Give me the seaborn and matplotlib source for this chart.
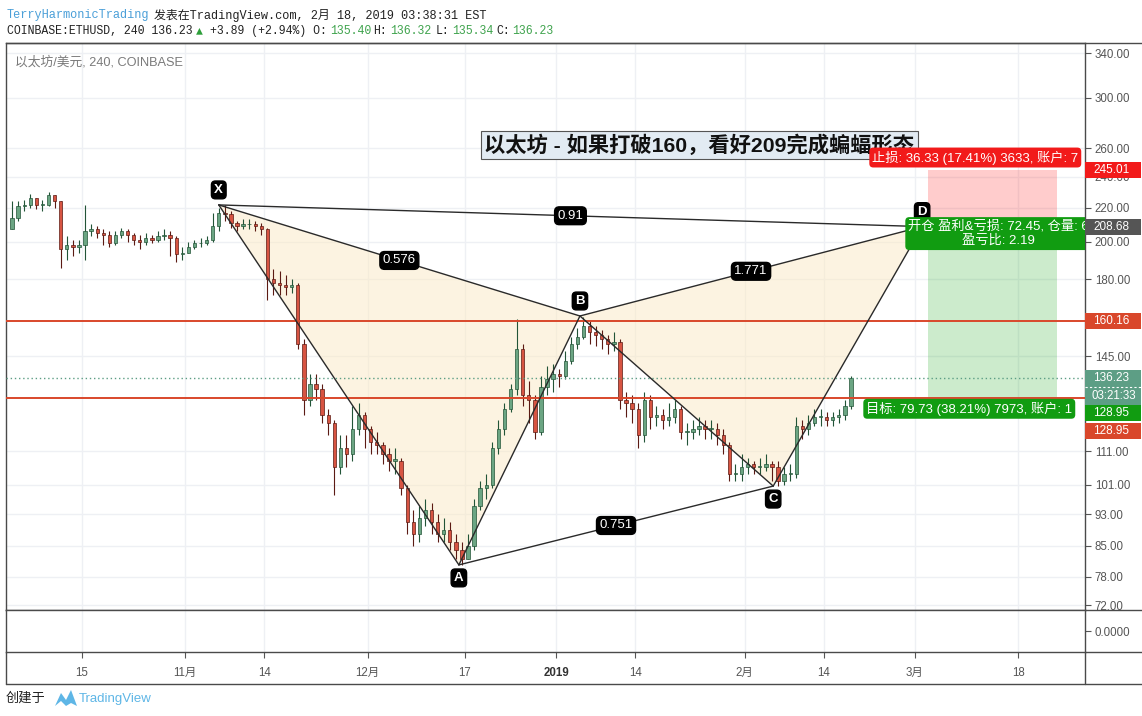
import matplotlib
matplotlib.use("Agg")
import numpy as np
import pandas as pd
import matplotlib.pyplot as plt
import matplotlib.dates as mdates
import matplotlib.ticker as mticker
from matplotlib.patches import Rectangle, Polygon
from matplotlib.lines import Line2D
import seaborn as sns

# ------------------------------------------------------------------ data
start_date = "2018-10-03"          # first daily candle
first_open = 207.0
closes = [214, 221, 222, 226, 222, 222, 228, 224, 196, 198,
          197, 198, 206, 207, 205, 204, 199, 204, 206, 204,
          201, 200, 202, 201, 203, 204, 202, 193, 194, 197,
          199, 199, 201, 209, 217, 216, 211, 209, 210, 210,
          209, 207, 180, 178, 177, 176, 177, 150, 128, 134,
          132, 123, 120, 106, 112, 110, 118, 123, 118, 114,
          113, 110, 108, 108, 100, 91, 88, 92, 94, 91,
          88, 89, 86, 84, 82, 85, 95, 100, 101, 112,
          118, 125, 132, 148, 130, 128, 117, 133, 136, 138,
          137, 143, 150, 153, 158, 155, 154, 152, 150, 151,
          128, 127, 125, 116, 128, 122, 123, 121, 122, 125,
          117, 117, 118, 119, 118, 118, 116, 113, 104, 104,
          106, 107, 106, 106, 107, 106, 102, 104, 104, 119,
          118, 120, 122, 122, 121, 122, 123, 126, 136.23]
highs = [224, 224, 225, 229, 226, 225, 230, 228, 224, 203,
         201, 201, 222, 210, 209, 207, 206, 206, 208, 207,
         205, 204, 205, 204, 206, 207, 206, 203, 197, 200,
         201, 202, 203, 217, 220, 222, 218, 212, 213, 213,
         212, 211, 208, 185, 184, 182, 180, 178, 152, 138,
         138, 134, 125, 121, 116, 116, 126, 127, 124, 119,
         117, 114, 112, 112, 109, 101, 94, 95, 97, 96,
         93, 92, 91, 88, 86, 88, 97, 102, 104, 114,
         121, 127, 134, 161, 150, 135, 130, 137, 141, 142,
         140, 147, 153, 157, 162, 160, 158, 156, 154, 155,
         152, 131, 130, 127, 131, 130, 126, 125, 127, 128,
         126, 120, 121, 122, 121, 121, 120, 118, 114, 107,
         110, 109, 108, 109, 110, 108, 108, 106, 107, 122,
         121, 123, 125, 125, 124, 124, 125, 128, 137]
lows = [207, 212, 218, 220, 219, 218, 221, 220, 186, 190,
        192, 194, 190, 203, 202, 198, 197, 198, 202, 200,
        198, 196, 198, 199, 200, 201, 192, 189, 190, 194,
        196, 197, 198, 200, 206, 212, 208, 206, 207, 207,
        206, 204, 170, 172, 172, 172, 173, 148, 123, 126,
        128, 120, 116, 98, 104, 106, 108, 116, 112, 110,
        110, 107, 105, 104, 98, 88, 85, 86, 90, 88,
        86, 86, 84, 82, 80.6, 82, 84, 94, 97, 100,
        110, 116, 124, 130, 126, 120, 115, 116, 130, 131,
        133, 136, 142, 148, 152, 150, 149, 148, 146, 147,
        125, 122, 120, 112, 114, 118, 119, 118, 119, 120,
        115, 113, 115, 116, 115, 115, 113, 110, 102, 102,
        102, 104, 104, 104, 105, 102, 100.6, 101, 102, 103,
        115, 116, 119, 119, 119, 119, 120, 121, 125]

pattern_labels = ["X", "A", "B", "C", "D"]
pattern_times = ["2018-11-06 12:00", "2018-12-16 00:00", "2019-01-04 22:00",
                 "2019-02-05 17:00", "2019-03-02 05:00"]
pattern_prices = [221.8, 80.6, 162.3, 100.6, 208.68]
pattern_legs = [("X", "A"), ("A", "B"), ("B", "C"), ("C", "D"),
                ("X", "B"), ("B", "D"), ("X", "D"), ("A", "C")]
ratio_legs = [("X", "B"), ("X", "D"), ("B", "D"), ("A", "C")]
ratio_values = ["0.576", "0.91", "1.771", "0.751"]

entry_price = 208.68
stop_price = 245.01
target_price = 128.95
tool_times = ["2019-03-03 05:00", "2019-03-24 10:00"]
stop_text = "止损: 36.33 (17.41%) 3633, 账户: 7"
entry_text = "开仓 盈利&亏损: 72.45, 仓量: 6\n盈亏比: 2.19"
target_text = "目标: 79.73 (38.21%) 7973, 账户: 1"

level_lines = [160.16, 128.95]
last_price = 136.23
countdown = "03:21:33"

title_text = "以太坊 - 如果打破160，看好209完成蝙蝠形态"
title_time = "2019-01-24 14:00"
title_price = 262.6

ytick_vals = [340, 300, 260, 240, 220, 200, 180, 145, 111, 101, 93, 85, 78, 72]
xtick_dates = ["2018-10-15", "2018-11-01", "2018-11-14", "2018-12-01", "2018-12-17",
               "2019-01-01", "2019-01-14", "2019-02-01", "2019-02-14", "2019-03-01",
               "2019-03-18"]
xtick_labels = ["15", "11月", "14", "12月", "17", "2019", "14", "2月", "14", "3月", "18"]
x_range = ["2018-10-02 12:00", "2019-03-29 00:00"]
y_range = [71.0, 349.7]

# ------------------------------------------------------------------ style
sns.set_theme(style="white")
plt.rcParams["font.family"] = ["Liberation Sans", "Noto Sans CJK SC", "DejaVu Sans"]
plt.rcParams["axes.unicode_minus"] = False
MONO = ["Liberation Mono", "Noto Sans CJK SC", "DejaVu Sans"]

W, H = 1142, 716
fig = plt.figure(figsize=(W / 100, H / 100), dpi=100, facecolor="white")

L, R, T, MB, LB, XB = 6, 1085, 43, 610, 652, 684
ax = fig.add_axes([L / W, 1 - MB / H, (R - L) / W, (MB - T) / H])
axl = fig.add_axes([L / W, 1 - LB / H, (R - L) / W, (LB - MB) / H])

FRAME = "#4a4a4a"
GRID = "#eef0f4"
TICKC = "#555555"
PX = 0.72  # points per pixel at 100 dpi

# ------------------------------------------------------------------ candles
n = len(closes)
day0 = pd.Timestamp(start_date)
centers = mdates.date2num([day0 + pd.Timedelta(days=i, hours=12) for i in range(n)])
o = np.array([first_open] + closes[:-1], dtype=float)
c = np.array(closes, dtype=float)
hi = np.array(highs, dtype=float)
lo = np.array(lows, dtype=float)
up = c >= o

ax.set_yscale("log")
xr = mdates.date2num(pd.to_datetime(x_range))
ax.set_xlim(*xr)
axl.set_xlim(*xr)
ax.set_ylim(*y_range)

wick_col = np.where(up, "#225437", "#5b1a13")
body_col = np.where(up, "#6ba583", "#d75442")
ax.vlines(centers, lo, hi, colors=wick_col, lw=0.8, zorder=3)
ax.bar(centers, np.maximum(np.abs(c - o), 0.5), bottom=np.minimum(o, c), width=0.55,
       color=body_col, edgecolor=wick_col, linewidth=0.5, zorder=4)

# ------------------------------------------------------------------ pattern
ptx = mdates.date2num(pd.to_datetime(pattern_times))
pt = {k: (x, y) for k, x, y in zip(pattern_labels, ptx, pattern_prices)}
fill_kw = dict(closed=True, fc="#fbe9c4", ec="none", alpha=0.5, zorder=1)
ax.add_patch(Polygon([pt["X"], pt["A"], pt["B"]], **fill_kw))
ax.add_patch(Polygon([pt["B"], pt["C"], pt["D"]], **fill_kw))

rows = []
for i, (a, b) in enumerate(pattern_legs):
    rows.append(dict(seg=i, x=pt[a][0], y=pt[a][1]))
    rows.append(dict(seg=i, x=pt[b][0], y=pt[b][1]))
sns.lineplot(data=pd.DataFrame(rows), x="x", y="y", units="seg", estimator=None,
             sort=False, color="#2a2a2a", lw=1.0, ax=ax, legend=False, zorder=6)

for (a, b), txt in zip(ratio_legs, ratio_values):
    mx = (pt[a][0] + pt[b][0]) / 2
    my = np.sqrt(pt[a][1] * pt[b][1])
    ax.text(mx, my, txt, ha="center", va="center", color="white", fontsize=9.5,
            bbox=dict(boxstyle="round,pad=0.22,rounding_size=0.35", fc="black", ec="black"),
            zorder=8)

for k in pattern_labels:
    above = k in ("X", "B", "D")
    ax.annotate(k, pt[k], xytext=(0, (15 if above else -13) * PX), textcoords="offset points",
                ha="center", va="center", color="white", fontsize=9.5, fontweight="bold",
                bbox=dict(boxstyle="round,pad=0.22,rounding_size=0.3", fc="black", ec="black"),
                zorder=8)

# ------------------------------------------------------------------ levels
for lv in level_lines:
    ax.axhline(lv, color="#d9472b", lw=1.4, zorder=5)
ax.axhline(last_price, color="#5d9e85", lw=1.0, ls=(0, (1, 2)), zorder=5)

# ------------------------------------------------------------------ title note
ax.text(mdates.date2num(pd.Timestamp(title_time)), title_price, title_text,
        ha="center", va="center", fontsize=15.3, fontweight="bold", color="#111111",
        bbox=dict(boxstyle="square,pad=0.15", fc="#e2ebf3", ec="#555555", lw=0.8), zorder=9)

# ------------------------------------------------------------------ position tool
t0, t1 = mdates.date2num(pd.to_datetime(tool_times))
ax.add_patch(Rectangle((t0, entry_price), t1 - t0, stop_price - entry_price,
                       fc=(1, 0, 0, 0.2), ec="none", zorder=2))
ax.add_patch(Rectangle((t0, target_price), t1 - t0, entry_price - target_price,
                       fc=(0, 0.61, 0, 0.2), ec="none", zorder=2))
box_kw = dict(textcoords="offset points", ha="left", va="center", color="white",
              fontsize=9.5, clip_on=True, zorder=10)
ax.annotate(stop_text, (t0, stop_price), xytext=(-56 * PX, 12 * PX),
            bbox=dict(boxstyle="round,pad=0.22,rounding_size=0.3", fc="#f21a1a", ec="none"),
            **box_kw)
ax.annotate(entry_text, (t0, entry_price), xytext=(-20 * PX, -7 * PX),
            linespacing=1.25, multialignment="center",
            bbox=dict(boxstyle="round,pad=0.22,rounding_size=0.3", fc="#119c11", ec="none"),
            **box_kw)
ax.annotate(target_text, (t0, target_price), xytext=(-62 * PX, -11 * PX),
            bbox=dict(boxstyle="round,pad=0.22,rounding_size=0.3", fc="#119c11", ec="none"),
            **box_kw)

# ------------------------------------------------------------------ axes styling
xt = mdates.date2num(pd.to_datetime(xtick_dates))
ax.set_xticks(xt)
ax.tick_params(axis="x", length=0, labelbottom=False)
ax.yaxis.tick_right()
ax.set_yticks(ytick_vals)
ax.yaxis.set_major_formatter(mticker.FormatStrFormatter("%.2f"))
ax.yaxis.set_minor_locator(mticker.NullLocator())
ax.tick_params(axis="y", which="major", right=True, left=False, length=4, width=0.8,
               color=TICKC, labelsize=8.3, labelcolor=TICKC, pad=3, direction="out")
ax.grid(True, color=GRID, lw=1)
ax.set_axisbelow(True)
ax.set_xlabel("")
ax.set_ylabel("")

axl.yaxis.tick_right()
axl.set_ylim(-1, 1)
axl.set_yticks([0])
axl.yaxis.set_major_formatter(mticker.FormatStrFormatter("%.4f"))
axl.tick_params(axis="y", right=True, left=False, length=4, width=0.8, color=TICKC,
                labelsize=8.3, labelcolor=TICKC, pad=3, direction="out")
axl.set_xticks(xt)
axl.set_xticklabels(xtick_labels)
axl.tick_params(axis="x", bottom=True, length=4, width=0.8, color=TICKC, labelsize=8.3,
                labelcolor=TICKC, pad=7, direction="out")
axl.get_xticklabels()[5].set_fontweight("bold")
axl.get_xticklabels()[5].set_color("#333333")
axl.grid(True, axis="x", color=GRID, lw=1)
axl.set_axisbelow(True)

for a in (ax, axl):
    for s in a.spines.values():
        s.set_color(FRAME)
        s.set_linewidth(1.0)
        s.set_visible(True)

# extra frame lines (price-axis column and date strip)
def fl(x0, y0, x1, y1):
    fig.add_artist(Line2D([x0 / W, x1 / W], [1 - y0 / H, 1 - y1 / H], color=FRAME, lw=1.0,
                          transform=fig.transFigure, zorder=20))
fl(L, T, W, T)
fl(R, MB, W, MB)
fl(R, LB, W, LB)
fl(L, XB, W, XB)
fl(L, LB, L, XB)
fl(R, LB, R, XB)

# ------------------------------------------------------------------ price tags
def ypx(price):
    return H - ax.transData.transform((xr[0], price))[1]

def tag(yc, text, fc, h=16):
    fig.add_artist(Rectangle((R / W, 1 - (yc + h / 2) / H), (W - 1 - R) / W, h / H,
                             transform=fig.transFigure, fc=fc, ec="none", zorder=21))
    fig.text(1093 / W, 1 - yc / H, text, color="white", fontsize=8.5, ha="left",
             va="center", zorder=22)

tag(ypx(stop_price), f"{stop_price:.2f}", "#f21a1a")
tag(ypx(entry_price), f"{entry_price:.2f}", "#555555")
tag(ypx(level_lines[0]), f"{level_lines[0]:.2f}", "#d9472b")
yl = ypx(last_price)
fig.add_artist(Rectangle((R / W, 1 - (yl + 27) / H), (W - 1 - R) / W, 35 / H,
                         transform=fig.transFigure, fc="#5d9e85", ec="none", zorder=21))
fig.text(1093 / W, 1 - yl / H, f"{last_price:.2f}", color="white", fontsize=8.5,
         ha="left", va="center", zorder=22)
fig.text(1091 / W, 1 - (yl + 17.5) / H, countdown, color="white", fontsize=8.3,
         ha="left", va="center", zorder=22)
fig.add_artist(Line2D([R / W, (W - 1) / W], [1 - (yl + 8.5) / H] * 2, color="white", lw=0.8,
                      ls=(0, (2, 2)), transform=fig.transFigure, zorder=22))
yt = ypx(target_price)
tag(yt + 15, f"{target_price:.2f}", "#119c11")
tag(yt + 33, f"{level_lines[1]:.2f}", "#d9472b")

# ------------------------------------------------------------------ header / footer
def ft(x, y, s, **kw):
    fig.text(x / W, 1 - y / H, s, va="center", ha="left", **kw)

ft(7, 15, "TerryHarmonicTrading", color="#4a9fd8", fontsize=8.6, family=MONO)
ft(154, 15, "发表在TradingView.com, 2月 18, 2019 03:38:31 EST", color="#222222",
   fontsize=8.6, family=MONO)
GREEN = "#3fa34d"
for s, x, col in [("COINBASE:ETHUSD, 240 136.23", 7, "#222222"), ("▲", 196, "#2e9e3a"),
                  ("+3.89 (+2.94%) O:", 210, "#222222"), ("135.40", 330, GREEN),
                  ("H:", 373, "#222222"), ("136.32", 390, GREEN), ("L:", 436, "#222222"),
                  ("135.34", 452, GREEN), ("C:", 496, "#222222"), ("136.23", 512, GREEN)]:
    ft(x, 31, s, color=col, fontsize=8.3, family=MONO)

ft(15, 62, "以太坊/美元, 240, COINBASE", color="#7a7a7a", fontsize=9.2)

ft(6, 698, "创建于", color="#222222", fontsize=9.5)
logo = [(55, 706), (61, 693), (66, 700), (71, 690), (77, 706), (71, 703), (66, 706), (61, 701)]
fig.add_artist(Polygon([(px / W, 1 - py / H) for px, py in logo], closed=True,
                       fc="#5eb6e6", ec="none", transform=fig.transFigure))
ft(79, 699, "TradingView", color="#5eb6e6", fontsize=9.5)

fig.savefig("out.png", dpi=100, facecolor="white")
